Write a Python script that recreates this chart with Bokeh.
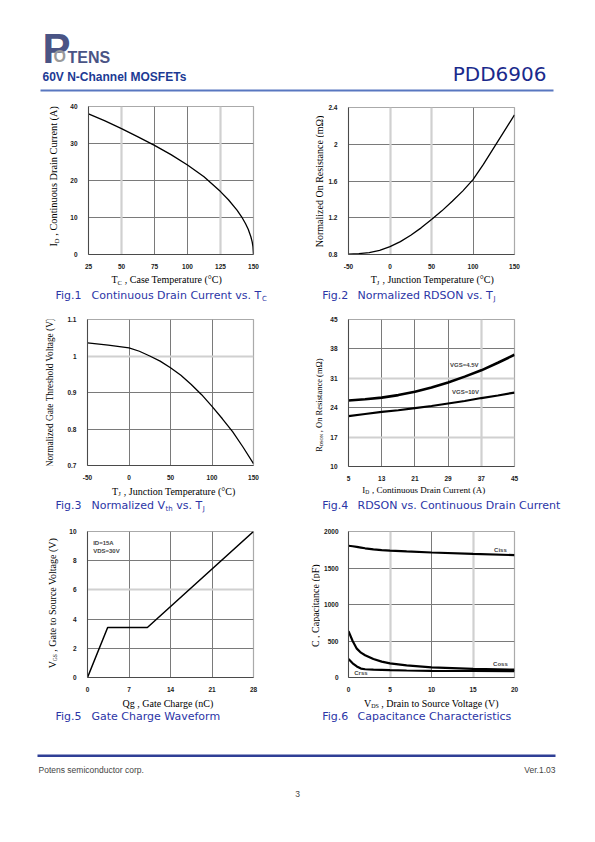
import math
from bokeh.plotting import figure
from bokeh.models import Range1d, FixedTicker, Grid, Label, BoxAnnotation
from bokeh.layouts import column, row
from bokeh.embed import file_html
from bokeh.resources import INLINE

# ---------------- data ----------------
# Fig.1 Continuous drain current vs case temperature
fig1_tc = [25, 37.5, 50, 62.5, 75, 87.5, 100, 112.5, 125, 131, 137.5, 141, 144, 146, 148, 149, 149.6, 150]
fig1_id = [38.0, 36.1, 34.0, 31.8, 29.5, 27.0, 24.2, 21.0, 17.0, 14.8, 12.0, 10.2, 8.3, 6.8, 4.8, 3.4, 2.1, 0.0]
fig1_xticks = [25, 50, 75, 100, 125, 150]
fig1_xlabels = ["25", "50", "75", "100", "125", "150"]
fig1_yticks = [0, 10, 20, 30, 40]
fig1_ylabels = ["0", "10", "20", "30", "40"]

# Fig.2 Normalized RDSON vs junction temperature
fig2_tj = [-50, -37.5, -25, -12.5, 0, 12.5, 25, 37.5, 50, 62.5, 75, 87.5, 100, 112.5, 125, 137.5, 150]
fig2_r = [0.805, 0.81, 0.82, 0.845, 0.885, 0.94, 1.01, 1.09, 1.18, 1.275, 1.38, 1.49, 1.615, 1.78, 1.96, 2.14, 2.32]
fig2_xticks = [-50, 0, 50, 100, 150]
fig2_xlabels = ["-50", "0", "50", "100", "150"]
fig2_yticks = [0.8, 1.2, 1.6, 2.0, 2.4]
fig2_ylabels = ["0.8", "1.2", "1.6", "2", "2.4"]

# Fig.3 Normalized Vth vs junction temperature
fig3_tj = [-50, -25, 0, 12.5, 25, 37.5, 50, 62.5, 75, 87.5, 100, 112.5, 125, 137.5, 150]
fig3_v = [1.036, 1.03, 1.022, 1.013, 1.0, 0.986, 0.968, 0.947, 0.922, 0.894, 0.862, 0.828, 0.792, 0.75, 0.705]
fig3_xticks = [-50, 0, 50, 100, 150]
fig3_xlabels = ["-50", "0", "50", "100", "150"]
fig3_yticks = [0.7, 0.8, 0.9, 1.0, 1.1]
fig3_ylabels = ["0.7", "0.8", "0.9", "1", "1.1"]

# Fig.4 RDSON vs continuous drain current
fig4_id = [5, 9, 13, 17, 21, 25, 29, 33, 37, 41, 45]
fig4_vgs45 = [25.7, 26.0, 26.4, 27.0, 27.8, 28.8, 30.0, 31.4, 32.9, 34.7, 36.6]
fig4_vgs10 = [22.0, 22.5, 23.0, 23.4, 23.9, 24.4, 25.0, 25.6, 26.3, 26.9, 27.6]
fig4_xticks = [5, 13, 21, 29, 37, 45]
fig4_xlabels = ["5", "13", "21", "29", "37", "45"]
fig4_yticks = [10, 17, 24, 31, 38, 45]
fig4_ylabels = ["10", "17", "24", "31", "38", "45"]

# Fig.5 Gate charge waveform
fig5_qg = [0, 3.4, 10.1, 28]
fig5_vgs = [0, 3.42, 3.42, 10]
fig5_xticks = [0, 7, 14, 21, 28]
fig5_xlabels = ["0", "7", "14", "21", "28"]
fig5_yticks = [0, 2, 4, 6, 8, 10]
fig5_ylabels = ["0", "2", "4", "6", "8", "10"]

# Fig.6 Capacitance characteristics
fig6_vds = [0, 0.5, 1, 1.5, 2, 3, 4, 5, 7, 10, 15, 20]
fig6_ciss = [1805, 1798, 1790, 1780, 1770, 1755, 1745, 1738, 1727, 1712, 1693, 1676]
fig6_coss = [635, 500, 395, 340, 305, 253, 218, 193, 166, 140, 118, 108]
fig6_crss = [255, 195, 152, 122, 113, 108, 104, 100, 96, 92, 89, 86]
fig6_xticks = [0, 5, 10, 15, 20]
fig6_xlabels = ["0", "5", "10", "15", "20"]
fig6_yticks = [0, 500, 1000, 1500, 2000]
fig6_ylabels = ["0", "500", "1000", "1500", "2000"]

# ---------------- styling helpers ----------------
SERIF = "Liberation Serif"
SANS = "Liberation Sans"
CAPF = "DejaVu Sans"
CAP_BLUE = "#2b35a6"
DARK = "#7a7a7a"
LIGHT = "#d0d0d0"
CAP_SIZE = 11

DV = {' ': .318, '.': .318, ',': .318, 'F': .575, 'i': .278, 'g': .635, 'C': .698, 'o': .612,
      'n': .634, 't': .392, 'u': .634, 's': .521, 'D': .770, 'r': .411, 'a': .613, 'e': .615,
      'v': .592, 'T': .611, 'N': .748, 'm': .974, 'l': .278, 'z': .525, 'd': .635, 'R': .695,
      'S': .635, 'O': .787, 'V': .684, 'h': .634, 'G': .775, 'W': .989, 'f': .352, 'p': .635,
      'c': .550, 'w': .818, 'k': .579}
for _d in "0123456789":
    DV[_d] = .636


def tw(s, size):
    return sum(DV.get(c, 0.6) for c in s) * size


def textfig(x0, y0, w, h, top=0, bottom=0):
    """A blank figure whose data coordinates equal page pixel coordinates."""
    f = figure(width=int(w), height=int(h), x_range=Range1d(x0, x0 + w),
               y_range=Range1d(y0 + h - bottom, y0 + top),
               output_backend="svg", toolbar_location=None, min_border=0,
               min_border_top=top, min_border_bottom=bottom)
    f.axis.visible = False
    f.grid.visible = False
    f.outline_line_color = None
    f.background_fill_color = "white"
    f.border_fill_color = "white"
    return f


def put(f, px, py, text, size, font=SERIF, color="black", align="left",
        angle=0.0, baseline="middle", style="normal"):
    f.add_layout(Label(x=px, y=py, text=text, text_font=font, text_font_size=f"{size}px",
                       text_color=color, text_align=align, text_baseline=baseline,
                       angle=angle, text_font_style=style))


BOT, BLOCK_H = 11, 210


def block(bx, by, bw, frame, ys, xr, yr, xt, xl, yt, yl, vd, vl, hd, hl, ystand=5):
    fl, fr, ft, fb = frame
    top_h = fb + BOT - by
    cw = bx + bw - (fl - ys)
    p = figure(width=cw, height=top_h, x_range=Range1d(*xr), y_range=Range1d(*yr),
               output_backend="svg", toolbar_location=None,
               min_border_left=ys, min_border_right=bx + bw - fr,
               min_border_top=ft - by, min_border_bottom=BOT)
    p.background_fill_color = "white"
    p.border_fill_color = "white"
    p.outline_line_color = "#aaaaaa"
    p.outline_line_width = 1.2
    p.xaxis.ticker = FixedTicker(ticks=xt)
    p.yaxis.ticker = FixedTicker(ticks=yt)
    p.xaxis.major_label_overrides = {v: s for v, s in zip(xt, xl)}
    p.yaxis.major_label_overrides = {v: s for v, s in zip(yt, yl)}
    for ax in (p.xaxis[0], p.yaxis[0]):
        ax.major_tick_line_color = None
        ax.minor_tick_line_color = None
        ax.axis_line_color = "#4a4a4a"
        ax.axis_line_width = 1
        ax.major_label_text_font = SANS
        ax.major_label_text_font_size = "6.5px"
        ax.major_label_text_font_style = "bold"
        ax.major_label_text_color = "#1a1a1a"
    p.xaxis.major_label_standoff = 3
    p.yaxis.major_label_standoff = ystand
    p.xgrid.ticker = FixedTicker(ticks=vd)
    p.xgrid.grid_line_color = DARK
    p.ygrid.ticker = FixedTicker(ticks=hd)
    p.ygrid.grid_line_color = DARK
    if vl:
        p.add_layout(Grid(dimension=0, ticker=FixedTicker(ticks=vl), grid_line_color=LIGHT,
                          grid_line_width=2.2))
    if hl:
        p.add_layout(Grid(dimension=1, ticker=FixedTicker(ticks=hl), grid_line_color=LIGHT,
                          grid_line_width=2.2))
    # side text panel shares the chart's top/bottom borders (rows align plot frames)
    side = textfig(bx, by, fl - ys - bx, top_h, top=ft - by, bottom=BOT)
    under = textfig(bx, by + top_h, bw, BLOCK_H - top_h)
    lay = column(row(side, p), under)
    return p, side, under, lay


def xlabel_sub(f, y, xa, main, sub, rest, size=10, subsize=6.5, subw=4.0):
    put(f, xa, y, main, size, align="right")
    put(f, xa, y + 2.5, sub, subsize)
    put(f, xa + subw + 0.3 * size, y, rest, size)


def ylabel_sub(f, x, ybot, main, mainw, sub, subw, rest, size=10, subsize=6.5):
    a = math.pi / 2
    put(f, x, ybot, main, size, angle=a)
    put(f, x + 2.3, ybot - mainw, sub, subsize, angle=a)
    put(f, x, ybot - mainw - subw - 0.3 * size, rest, size, angle=a)


def caption(f, x, tab, y, parts):
    put(f, x, y, parts[0], CAP_SIZE, font=CAPF, color=CAP_BLUE)
    cx = tab
    for txt, is_sub in parts[1:]:
        lead = len(txt) - len(txt.lstrip(" "))
        cx += lead * DV[' '] * CAP_SIZE
        txt = txt.strip(" ")
        if is_sub:
            put(f, cx + 0.5, y + 3, txt, 7, font=CAPF, color=CAP_BLUE)
            cx += tw(txt, 7) + 0.5
        else:
            put(f, cx, y, txt, CAP_SIZE, font=CAPF, color=CAP_BLUE)
            cx += tw(txt, CAP_SIZE)


TAB_L, TAB_R = 91, 357

# ---------------- Fig.1 ----------------
p1, s1, u1, b1 = block(0, 98, 300, (88, 253, 106, 260), 26, (25, 150), (0, 40),
                       fig1_xticks, fig1_xlabels, fig1_yticks, fig1_ylabels,
                       [75, 100], [50, 125], [10, 20, 30], [])
p1.line(fig1_tc, fig1_id, line_color="black", line_width=1.3)
ylabel_sub(s1, 53.3, 251.7, "I", 3.5, "D", 4.7, ", Continuous Drain Current (A)", size=10.3)
xlabel_sub(u1, 279, 117, "T", "C", ", Case Temperature (°C)", subw=4.3)
caption(u1, 55, TAB_L, 295, ["Fig.1", ("Continuous Drain Current vs. T", False), ("C", True)])

# ---------------- Fig.2 ----------------
p2, s2, u2, b2 = block(300, 98, 295, (348, 514, 107, 260), 24, (-50, 150), (0.8, 2.4),
                       fig2_xticks, fig2_xlabels, fig2_yticks, fig2_ylabels,
                       [100], [0, 50], [1.2, 1.6, 2.0], [])
p2.line(fig2_tj, fig2_r, line_color="black", line_width=1.3)
put(s2, 318.5, 184, "Normalized On Resistance (mΩ)", 10, align="center", angle=math.pi / 2)
xlabel_sub(u2, 279, 376.3, "T", "J", ", Junction Temperature (°C)", subw=2.6)
caption(u2, 321.7, TAB_R, 295, ["Fig.2", ("Normalized RDSON vs. T", False), ("J", True)])

# ---------------- Fig.3 ----------------
p3, s3, u3, b3 = block(0, 308, 300, (87, 253, 319, 471), 26, (-50, 150), (0.7, 1.1),
                       fig3_xticks, fig3_xlabels, fig3_yticks, fig3_ylabels,
                       [0, 50, 100], [], [0.8, 0.9], [1.0])
p3.line(fig3_tj, fig3_v, line_color="black", line_width=1.3)
put(s3, 49.3, 395, "Normalized Gate Threshold Voltage (V)", 9.3, align="center", angle=math.pi / 2)
xlabel_sub(u3, 490.7, 117.7, "T", "J", ", Junction Temperature (°C)", subw=2.6)
caption(u3, 55, TAB_L, 505, ["Fig.3", ("Normalized V", False), ("th", True), (" vs. T", False), ("J", True)])

# ---------------- Fig.4 ----------------
p4, s4, u4, b4 = block(300, 308, 295, (348, 514, 319, 472), 24, (5, 45), (10, 45),
                       fig4_xticks, fig4_xlabels, fig4_yticks, fig4_ylabels,
                       [13, 21, 29], [37], [24, 38], [17, 31])
p4.line(fig4_id, fig4_vgs45, line_color="black", line_width=2.6)
p4.line(fig4_id, fig4_vgs10, line_color="black", line_width=2.2)
p4.add_layout(Label(x=32.9, y=34.2, text="VGS=4.5V", text_font=SANS, text_font_size="6px",
                    text_font_style="bold", text_align="center", text_baseline="middle"))
p4.add_layout(Label(x=33.2, y=27.8, text="VGS=10V", text_font=SANS, text_font_size="6px",
                    text_font_style="bold", text_align="center", text_baseline="middle"))
ylabel_sub(s4, 318.3, 456.7, "R", 5.7, "DSON", 12.2, ", On Resistance (mΩ)", size=8.5, subsize=4.5)
xlabel_sub(u4, 489, 364.8, "I", "D", ", Continuous Drain Current (A)", size=9, subsize=5.5, subw=4.0)
caption(u4, 321.7, TAB_R, 505, ["Fig.4", ("RDSON vs. Continuous Drain Current", False)])

# ---------------- Fig.5 ----------------
p5, s5, u5, b5 = block(0, 518, 300, (87, 253, 531, 683), 26, (0, 28), (0, 10),
                       fig5_xticks, fig5_xlabels, fig5_yticks, fig5_ylabels,
                       [7, 14, 21], [], [2, 4, 8], [6])
p5.line(fig5_qg, fig5_vgs, line_color="black", line_width=1.5)
p5.add_layout(Label(x=0.96, y=9.19, text="ID=15A", text_font=SANS, text_font_size="6px",
                    text_font_style="bold", text_align="left", text_baseline="middle"))
p5.add_layout(Label(x=0.96, y=8.64, text="VDS=30V", text_font=SANS, text_font_size="6px",
                    text_font_style="bold", text_align="left", text_baseline="middle"))
ylabel_sub(s5, 51.7, 673.3, "V", 7.2, "GS", 7.0, ", Gate to Source Voltage (V)", size=10, subsize=5.5)
put(u5, 167.4, 702.7, "Qg , Gate Charge (nC)", 10, align="center")
caption(u5, 55, TAB_L, 716, ["Fig.5", ("Gate Charge Waveform", False)])

# ---------------- Fig.6 ----------------
p6, s6, u6, b6 = block(300, 518, 295, (348, 514, 531, 683), 28, (0, 20), (0, 2000),
                       fig6_xticks, fig6_xlabels, fig6_yticks, fig6_ylabels,
                       [10], [5, 15], [500, 1000, 1500], [], ystand=4)
p6.line(fig6_vds, fig6_ciss, line_color="black", line_width=2.2)
p6.line(fig6_vds, fig6_coss, line_color="black", line_width=2.2)
p6.line(fig6_vds, fig6_crss, line_color="black", line_width=2.2)
for tx, ty, tt in ((18.3, 1745, "Ciss"), (18.3, 191, "Coss"), (1.5, 56, "Crss")):
    p6.add_layout(Label(x=tx, y=ty, text=tt, text_font=SANS, text_font_size="6px",
                        text_font_style="bold", text_align="center", text_baseline="middle"))
put(s6, 314.5, 608.3, "C , Capacitance (pF)", 10, align="center", angle=math.pi / 2)
xlabel_sub(u6, 702.7, 370.7, "V", "DS", ", Drain to Source Voltage (V)", subsize=6, subw=7.0)
caption(u6, 321.7, TAB_R, 716, ["Fig.6", ("Capacitance Characteristics", False)])

# ---------------- header ----------------
hdr = textfig(0, 0, 595, 98)
put(hdr, 42, 48, "P", 42, font=SANS, style="bold", color="#4a5485")
put(hdr, 53, 56, "O", 16, font=SANS, style="bold", color="#9a9a9a")
put(hdr, 67, 56.5, "TENS", 16, font=SANS, style="bold", color="#4a5485")
put(hdr, 42, 76, "60V N-Channel MOSFETs", 12, font=SANS, style="bold", color="#1c3a94")
put(hdr, 546, 73, "PDD6906", 20, font=CAPF, color="#1a2a8c", align="right")
hdr.add_layout(BoxAnnotation(left=40, right=553, top=89, bottom=91, fill_color="#5877c0",
                             fill_alpha=1, line_color=None))

# ---------------- footer ----------------
ftr = textfig(0, 728, 595, 112)
ftr.add_layout(BoxAnnotation(left=37, right=555, top=754, bottom=756.5, fill_color="#2f3f96",
                             fill_alpha=1, line_color=None))
put(ftr, 38, 769, "Potens semiconductor corp.", 8.5, font=SANS, color="#444444")
put(ftr, 555, 769, "Ver.1.03", 8.5, font=SANS, color="#444444", align="right")
put(ftr, 297, 793, "3", 8.5, font=SANS, color="#444444", align="center")

layout = column(hdr, row(b1, b2), row(b3, b4), row(b5, b6), ftr)
open("out.html", "w").write(file_html(layout, INLINE))
